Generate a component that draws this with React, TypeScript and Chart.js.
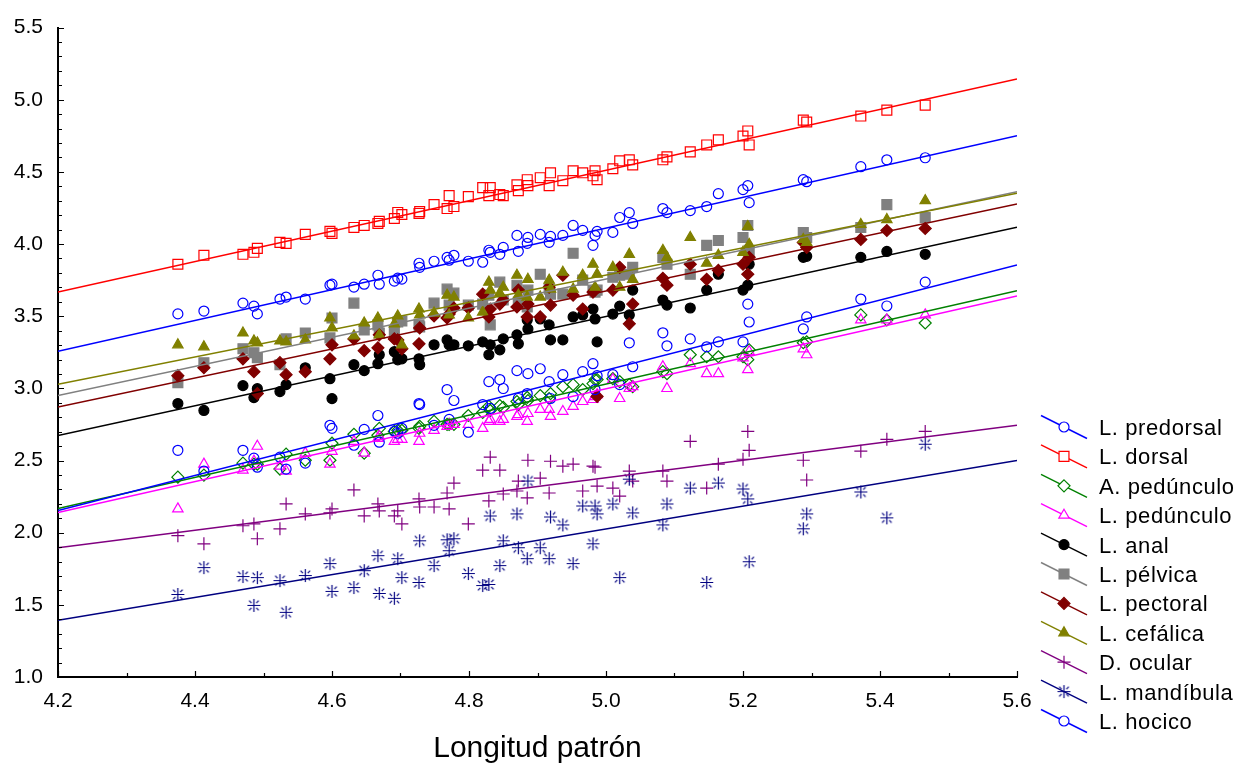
import React, { useEffect, useRef } from 'react';
import { Chart, registerables } from 'chart.js';

Chart.register(...registerables);

// Standard length (log scale) of each specimen, shared by every measurement
const longitudPatron = [
  4.375, 4.413, 4.470, 4.486, 4.491, 4.524, 4.533, 4.561, 4.597, 4.600,
  4.632, 4.647, 4.667, 4.669, 4.691, 4.696, 4.702, 4.727, 4.728, 4.749,
  4.768, 4.771, 4.778, 4.799, 4.820, 4.829, 4.831, 4.845, 4.850, 4.870,
  4.872, 4.885, 4.886, 4.904, 4.917, 4.919, 4.937, 4.952, 4.966, 4.981,
  4.984, 4.987, 5.010, 5.020, 5.034, 5.039, 5.083, 5.089, 5.123, 5.147,
  5.164, 5.200, 5.207, 5.209, 5.288, 5.293, 5.372, 5.410, 5.466,
];

const lPredorsal = [
  3.516, 3.536, 3.591, 3.570, 3.516, 3.619, 3.633, 3.619, 3.715, 3.722,
  3.702, 3.722, 3.784, 3.722, 3.743, 3.764, 3.757, 3.867, 3.839, 3.881,
  3.908, 3.888, 3.922, 3.881, 3.874, 3.957, 3.943, 3.929, 3.977, 4.060,
  3.950, 4.005, 4.046, 4.067, 4.012, 4.053, 4.060, 4.129, 4.095, 3.991,
  4.060, 4.088, 4.081, 4.184, 4.218, 4.143, 4.246, 4.218, 4.232, 4.260,
  4.349, 4.377, 4.405, 4.287, 4.446, 4.432, 4.536, 4.584, 4.598,
];

const lDorsal = [
  3.860, 3.922, 3.929, 3.943, 3.970, 4.012, 4.005, 4.067, 4.088, 4.074,
  4.115, 4.129, 4.143, 4.157, 4.177, 4.219, 4.205, 4.212, 4.225, 4.274,
  4.246, 4.336, 4.260, 4.329, 4.391, 4.336, 4.391, 4.343, 4.336, 4.411,
  4.370, 4.446, 4.405, 4.460, 4.405, 4.494, 4.439, 4.508, 4.494, 4.473,
  4.508, 4.446, 4.522, 4.577, 4.584, 4.549, 4.584, 4.604, 4.639, 4.687,
  4.722, 4.749, 4.784, 4.687, 4.859, 4.846, 4.887, 4.928, 4.963,
];

const aPedunculo = [
  2.385, 2.399, 2.482, 2.475, 2.475, 2.441, 2.544, 2.502, 2.502, 2.620,
  2.682, 2.551, 2.675, 2.723, 2.702, 2.709, 2.709, 2.723, 2.737, 2.771,
  2.750, 2.750, 2.750, 2.812, 2.833, 2.875, 2.847, 2.881, 2.868, 2.909,
  2.888, 2.937, 2.916, 2.950, 2.930, 2.964, 3.012, 3.026, 2.992, 3.033,
  3.061, 3.061, 3.067, 3.047, 3.026, 3.012, 3.116, 3.102, 3.233, 3.219,
  3.219, 3.219, 3.199, 3.267, 3.316, 3.323, 3.509, 3.474, 3.453,
];

const lPedunculo = [
  2.165, 2.475, 2.434, 2.496, 2.599, 2.461, 2.427, 2.551, 2.475, 2.564,
  2.633, 2.551, 2.654, 2.668, 2.633, 2.647, 2.647, 2.633, 2.689, 2.709,
  2.737, 2.750, 2.750, 2.750, 2.723, 2.771, 2.785, 2.771, 2.785, 2.806,
  2.819, 2.771, 2.826, 2.854, 2.854, 2.806, 2.840, 2.875, 2.909, 2.923,
  2.943, 2.957, 3.061, 2.930, 2.999, 3.012, 3.150, 2.999, 3.171, 3.102,
  3.102, 3.212, 3.130, 3.254, 3.274, 3.233, 3.474, 3.474, 3.509,
];

const lAnal = [
  2.895, 2.847, 3.019, 2.936, 2.998, 2.978, 3.026, 3.143, 3.067, 2.929,
  3.164, 3.123, 3.171, 3.233, 3.254, 3.198, 3.205, 3.205, 3.164, 3.302,
  3.336, 3.302, 3.302, 3.295, 3.322, 3.233, 3.302, 3.267, 3.343, 3.371,
  3.309, 3.474, 3.412, 3.481, 3.440, 3.336, 3.336, 3.495, 3.509, 3.550,
  3.481, 3.322, 3.515, 3.570, 3.509, 3.681, 3.612, 3.577, 3.557, 3.681,
  3.791, 3.681, 3.715, 3.860, 3.908, 3.915, 3.908, 3.949, 3.929,
];

const lPelvica = [
  3.040, 3.178, 3.275, 3.247, 3.213, 3.164, 3.343, 3.384, 3.350, 3.488,
  3.591, 3.405, 3.440, 3.384, 3.391, 3.460, 3.467, 3.440, 3.426, 3.591,
  3.688, 3.577, 3.660, 3.577, 3.584, 3.646, 3.440, 3.736, 3.612, 3.715,
  3.598, 3.564, 3.681, 3.791, 3.688, 3.653, 3.653, 3.936, 3.750, 3.681,
  3.667, 3.681, 3.770, 3.784, 3.791, 3.839, 3.908, 3.860, 3.791, 3.991,
  4.025, 4.046, 4.129, 3.956, 4.080, 4.046, 4.115, 4.273, 4.184,
];

const lPectoral = [
  3.088, 3.143, 3.205, 3.116, 2.964, 3.178, 3.095, 3.116, 3.205, 3.302,
  3.343, 3.261, 3.281, 3.371, 3.343, 3.336, 3.274, 3.309, 3.419, 3.502,
  3.488, 3.515, 3.557, 3.557, 3.653, 3.495, 3.550, 3.584, 3.612, 3.564,
  3.681, 3.495, 3.584, 3.495, 3.701, 3.577, 3.784, 3.646, 3.550, 3.667,
  3.681, 2.944, 3.681, 3.839, 3.447, 3.584, 3.763, 3.715, 3.860, 3.756,
  3.818, 3.860, 3.791, 3.908, 4.011, 3.977, 4.032, 4.094, 4.108,
];

const lCefalica = [
  3.302, 3.288, 3.384, 3.329, 3.315, 3.329, 3.322, 3.336, 3.488, 3.419,
  3.364, 3.453, 3.488, 3.371, 3.446, 3.502, 3.302, 3.550, 3.509, 3.522,
  3.646, 3.509, 3.633, 3.488, 3.529, 3.736, 3.681, 3.660, 3.701, 3.784,
  3.646, 3.633, 3.756, 3.633, 3.750, 3.688, 3.805, 3.688, 3.784, 3.860,
  3.701, 3.791, 3.839, 3.701, 3.929, 3.756, 3.956, 3.908, 4.046, 3.867,
  3.922, 3.943, 4.122, 3.998, 4.032, 4.011, 4.136, 4.170, 4.301,
];

const dOcular = [
  1.979, 1.923, 2.048, 2.061, 1.958, 2.027, 2.199, 2.130, 2.137, 2.165,
  2.296, 2.116, 2.199, 2.151, 2.116, 2.151, 2.061, 2.234, 2.178, 2.178,
  2.275, 2.165, 2.344, 2.061, 2.433, 2.220, 2.523, 2.433, 2.268, 2.289,
  2.358, 2.241, 2.502, 2.378, 2.275, 2.495, 2.461, 2.475, 2.289, 2.461,
  2.454, 2.323, 2.309, 2.254, 2.427, 2.358, 2.427, 2.358, 2.633, 2.309,
  2.475, 2.509, 2.702, 2.571, 2.502, 2.365, 2.565, 2.647, 2.702,
];

const lMandibula = [
  1.572, 1.758, 1.696, 1.496, 1.689, 1.668, 1.448, 1.703, 1.786, 1.593,
  1.620, 1.737, 1.841, 1.579, 1.545, 1.820, 1.689, 1.655, 1.944, 1.772,
  1.951, 1.875, 1.958, 1.717, 1.634, 1.641, 2.116, 1.772, 1.944, 2.130,
  1.896, 1.820, 2.358, 1.896, 1.820, 2.109, 2.054, 1.786, 2.185, 1.923,
  2.185, 2.130, 2.199, 1.689, 2.371, 2.137, 2.054, 2.199, 2.309, 1.655,
  2.344, 2.303, 2.234, 1.799, 2.027, 2.130, 2.282, 2.103, 2.613,
];

const lHocico = [
  2.571, 2.427, 2.571, 2.516, 2.454, 2.523, 2.441, 2.482, 2.744, 2.723,
  2.606, 2.716, 2.812, 2.627, 2.702, 2.689, 2.723, 2.895, 2.888, 2.744,
  2.992, 2.785, 2.916, 2.696, 2.888, 3.047, 2.861, 3.061, 2.999, 3.123,
  2.930, 2.964, 3.102, 3.136, 3.047, 2.930, 3.095, 2.943, 3.116, 3.171,
  2.992, 3.088, 3.095, 3.026, 3.316, 3.150, 3.385, 3.295, 3.343, 3.288,
  3.322, 3.322, 3.584, 3.460, 3.412, 3.495, 3.619, 3.571, 3.736,
];

// Legend labels, in drawing order
const nombres = [
  'L. predorsal', 'L. dorsal', 'A. pedúnculo', 'L. pedúnculo', 'L. anal',
  'L. pélvica', 'L. pectoral', 'L. cefálica', 'D. ocular', 'L. mandíbula', 'L. hocico',
];

// Fitted regression lines: value at the start and at the end of the x range
const rectaX = [4.2, 5.6];
const rectaInicio = [3.258, 3.667, 2.167, 2.139, 2.673, 2.950, 2.870, 3.028, 1.896, 1.393, 2.153];
const rectaFin = [4.751, 5.144, 3.676, 3.640, 4.117, 4.363, 4.278, 4.352, 2.744, 2.500, 3.855];

const xTicks = [4.2, 4.4, 4.6, 4.8, 5.0, 5.2, 5.4, 5.6];
const yTicks = [1.0, 1.5, 2.0, 2.5, 3.0, 3.5, 4.0, 4.5, 5.0, 5.5];

const valores = [
  lPredorsal, lDorsal, aPedunculo, lPedunculo, lAnal,
  lPelvica, lPectoral, lCefalica, dOcular, lMandibula, lHocico,
];

type Estilo = { color: string; forma: string; relleno: boolean; radio: number };

const estilos: Estilo[] = [
  { color: '#0000ff', forma: 'circle', relleno: false, radio: 5 },
  { color: '#ff0000', forma: 'rect', relleno: false, radio: 7 },
  { color: '#008000', forma: 'rectRot', relleno: false, radio: 6 },
  { color: '#ff00ff', forma: 'triangle', relleno: false, radio: 6 },
  { color: '#000000', forma: 'circle', relleno: true, radio: 5 },
  { color: '#808080', forma: 'rect', relleno: true, radio: 7 },
  { color: '#800000', forma: 'rectRot', relleno: true, radio: 6 },
  { color: '#808000', forma: 'triangle', relleno: true, radio: 6 },
  { color: '#800080', forma: 'cross', relleno: false, radio: 6.5 },
  { color: '#000080', forma: 'asterisk', relleno: false, radio: 6 },
  { color: '#0000ff', forma: 'circle', relleno: false, radio: 5 },
];

const FONT = '"Liberation Sans", Arial, sans-serif';

// Plus sign with short detached diagonal strokes
function asterisco(color: string): HTMLCanvasElement {
  const c = document.createElement('canvas');
  c.width = 15;
  c.height = 15;
  const g = c.getContext('2d')!;
  g.strokeStyle = color;
  g.lineWidth = 1.2;
  g.beginPath();
  g.moveTo(7.5, 1);
  g.lineTo(7.5, 14);
  g.moveTo(1, 7.5);
  g.lineTo(14, 7.5);
  const dirs = [[1, 1], [1, -1], [-1, 1], [-1, -1]];
  for (const [dx, dy] of dirs) {
    g.moveTo(7.5 + dx * 2.4, 7.5 + dy * 2.4);
    g.lineTo(7.5 + dx * 4.8, 7.5 + dy * 4.8);
  }
  g.stroke();
  return c;
}

function marcador(ctx: CanvasRenderingContext2D, e: Estilo, x: number, y: number, img: HTMLCanvasElement) {
  const r = e.radio;
  ctx.save();
  ctx.lineWidth = 1.2;
  ctx.strokeStyle = e.color;
  ctx.fillStyle = e.relleno ? e.color : '#ffffff';
  ctx.beginPath();
  if (e.forma === 'circle') {
    ctx.arc(x, y, r, 0, Math.PI * 2);
  } else if (e.forma === 'rect') {
    const s = r * Math.SQRT1_2;
    ctx.rect(x - s, y - s, 2 * s, 2 * s);
  } else if (e.forma === 'rectRot') {
    ctx.moveTo(x, y - r);
    ctx.lineTo(x + r, y);
    ctx.lineTo(x, y + r);
    ctx.lineTo(x - r, y);
    ctx.closePath();
  } else if (e.forma === 'triangle') {
    ctx.moveTo(x, y - r);
    ctx.lineTo(x + r * 0.866, y + r * 0.5);
    ctx.lineTo(x - r * 0.866, y + r * 0.5);
    ctx.closePath();
  }
  if (e.forma === 'cross') {
    ctx.moveTo(x, y - r);
    ctx.lineTo(x, y + r);
    ctx.moveTo(x - r, y);
    ctx.lineTo(x + r, y);
    ctx.stroke();
  } else if (e.forma === 'asterisk') {
    ctx.drawImage(img, x - img.width / 2, y - img.height / 2);
  } else {
    ctx.fill();
    ctx.stroke();
  }
  ctx.restore();
}

export default function App() {
  const ref = useRef<HTMLCanvasElement>(null);

  useEffect(() => {
    const canvas = ref.current;
    if (!canvas) return;
    const imgAst = asterisco('#000080');

    const puntos = valores.map((serie, i) => {
      const e = estilos[i];
      return {
        label: nombres[i],
        data: longitudPatron.map((x, k) => ({ x, y: serie[k] })),
        showLine: false,
        pointStyle: e.forma === 'asterisk' ? (imgAst as any) : e.forma,
        pointRadius: e.radio,
        pointBorderWidth: 1.2,
        pointBorderColor: e.color,
        pointBackgroundColor: e.relleno ? e.color : 'rgba(0,0,0,0)',
        order: 100 - i,
      };
    });

    const rectas = nombres.map((n, i) => ({
      label: n + ' ajuste',
      data: rectaX.map((x, k) => ({ x, y: k === 0 ? rectaInicio[i] : rectaFin[i] })),
      showLine: true,
      borderColor: estilos[i].color,
      borderWidth: 1.5,
      pointRadius: 0,
      order: 20 - i,
    }));

    const marcasInternas = {
      id: 'marcasInternas',
      afterDraw(chart: any) {
        const { ctx, chartArea } = chart;
        const sx = chart.scales.x;
        const sy = chart.scales.y;
        ctx.save();
        ctx.strokeStyle = '#000';
        ctx.lineWidth = 1.2;
        ctx.beginPath();
        for (let i = 0; i < xTicks.length; i++) {
          const px = Math.round(sx.getPixelForValue(xTicks[i])) + 0.5;
          ctx.moveTo(px, chartArea.bottom);
          ctx.lineTo(px, chartArea.bottom - 6);
          if (i < xTicks.length - 1) {
            const pm = Math.round(sx.getPixelForValue((xTicks[i] + xTicks[i + 1]) / 2)) + 0.5;
            ctx.moveTo(pm, chartArea.bottom);
            ctx.lineTo(pm, chartArea.bottom - 4);
          }
        }
        for (let i = 0; i < yTicks.length; i++) {
          const py = Math.round(sy.getPixelForValue(yTicks[i])) + 0.5;
          ctx.moveTo(chartArea.left, py);
          ctx.lineTo(chartArea.left + 6, py);
          if (i < yTicks.length - 1) {
            for (let k = 1; k < 5; k++) {
              const v = yTicks[i] + ((yTicks[i + 1] - yTicks[i]) * k) / 5;
              const pm = Math.round(sy.getPixelForValue(v)) + 0.5;
              ctx.moveTo(chartArea.left, pm);
              ctx.lineTo(chartArea.left + 4, pm);
            }
          }
        }
        ctx.stroke();
        ctx.restore();
      },
    };

    const leyenda = {
      id: 'leyenda',
      afterDraw(chart: any) {
        const ctx: any = chart.ctx;
        ctx.save();
        nombres.forEach((n, i) => {
          const cy = 427 + i * 29.4;
          const cx = 1064;
          const e = estilos[i];
          ctx.strokeStyle = e.color;
          ctx.lineWidth = 1.5;
          ctx.beginPath();
          ctx.moveTo(cx - 23, cy - 11.5);
          ctx.lineTo(cx + 23, cy + 11.5);
          ctx.stroke();
          marcador(ctx, e, cx, cy, imgAst);
          ctx.fillStyle = '#000';
          ctx.font = `22px ${FONT}`;
          ctx.letterSpacing = '0.6px';
          ctx.textAlign = 'left';
          ctx.textBaseline = 'middle';
          ctx.fillText(n, 1099, cy + 2);
        });
        ctx.restore();
      },
    };

    const chart = new Chart(canvas, {
      type: 'scatter',
      data: { datasets: [...puntos, ...rectas] as any },
      options: {
        responsive: false,
        animation: false,
        events: [],
        layout: { padding: { left: 0, right: 222, top: 24, bottom: 0 } },
        plugins: { legend: { display: false }, tooltip: { enabled: false } },
        scales: {
          x: {
            type: 'linear',
            min: 4.2,
            max: 5.6,
            afterBuildTicks: (s: any) => {
              s.ticks = xTicks.map((v) => ({ value: v }));
            },
            afterFit: (s: any) => {
              s.height = 86;
            },
            grid: { display: false, drawTicks: false },
            border: { display: true, color: '#000', width: 2 },
            ticks: {
              padding: 12,
              color: '#000',
              font: { family: FONT, size: 21 },
              maxRotation: 0,
              callback: (v: any) => Number(v).toFixed(1),
            },
            title: {
              display: true,
              text: 'Longitud patrón',
              color: '#000',
              font: { family: FONT, size: 30 },
              padding: { top: 0, bottom: -4 },
            },
          },
          y: {
            type: 'linear',
            min: 1,
            max: 5.5,
            afterBuildTicks: (s: any) => {
              s.ticks = yTicks.map((v) => ({ value: v }));
            },
            afterFit: (s: any) => {
              s.width = 58;
            },
            grid: { display: false, drawTicks: false },
            border: { display: true, color: '#000', width: 2 },
            ticks: {
              padding: 15,
              color: '#000',
              font: { family: FONT, size: 21 },
              callback: (v: any) => Number(v).toFixed(1),
            },
          },
        },
      },
      plugins: [marcasInternas, leyenda],
    });

    return () => chart.destroy();
  }, []);

  return (
    <div style={{ position: 'fixed', left: 0, top: 0, width: 1239, height: 763, background: '#ffffff' }}>
      <canvas ref={ref} width={1239} height={763} style={{ display: 'block' }} />
    </div>
  );
}
